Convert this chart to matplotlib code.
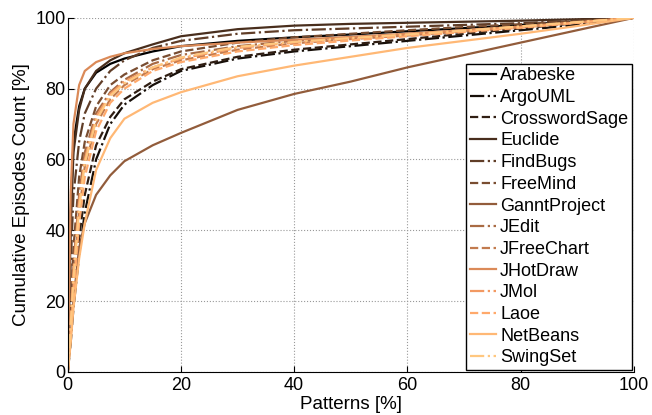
import matplotlib
matplotlib.use("Agg")
import matplotlib.pyplot as plt
import numpy as np

plt.rcParams['font.family'] = ['Liberation Sans', 'DejaVu Sans']

names = ['Arabeske', 'ArgoUML', 'CrosswordSage', 'Euclide', 'FindBugs', 'FreeMind',
         'GanntProject', 'JEdit', 'JFreeChart', 'JHotDraw', 'JMol', 'Laoe',
         'NetBeans', 'SwingSet']

# patterns [%] sample points shared by all curves
patterns = [0, 0.5, 1, 2, 3, 5, 7.5, 10, 15, 20, 30, 40, 50, 60, 70, 80, 90, 100]

arabeske      = [0, 45, 65, 75, 80, 84.5, 87, 88.5, 90.5, 92, 93.5, 94.5, 95.3, 96.2, 97.1, 98, 99, 100]
argouml       = [0, 8, 18, 33, 45, 60, 70, 75.5, 81, 85, 88.5, 90.5, 92, 93.5, 95, 96.5, 98, 100]
crosswordsage = [0, 10, 22, 38, 50, 64, 72, 77, 82, 85.5, 89, 91, 92.5, 94, 95.5, 97, 98.5, 100]
euclide       = [0, 40, 62, 74, 80, 85, 88, 90, 92.5, 94.8, 96.8, 97.8, 98.3, 98.6, 98.9, 99.2, 99.6, 100]
findbugs      = [0, 30, 50, 65, 73, 80, 85, 88, 91.5, 93.5, 95.5, 96.5, 97, 97.5, 98, 98.5, 99.2, 100]
freemind      = [0, 18, 35, 55, 65, 75, 81, 84, 88, 90.5, 93, 94.5, 95.5, 96.5, 97.4, 98.2, 99.1, 100]
ganttproject  = [0, 10, 20, 35, 42, 50, 55.5, 59.5, 64, 67.5, 74, 78.5, 82, 86, 89.5, 93, 96.5, 100]
jedit         = [0, 15, 30, 50, 62, 73, 79, 82.5, 87, 89.5, 92, 93.5, 94.5, 95.5, 96.5, 97.5, 98.7, 100]
jfreechart    = [0, 12, 25, 45, 58, 70, 77, 81, 85.5, 88, 91, 92.8, 94, 95, 96.2, 97.3, 98.6, 100]
jhotdraw      = [0, 50, 70, 81, 85, 87.5, 89, 90, 91.2, 92, 93, 93.8, 94.6, 95.5, 96.5, 97.5, 98.7, 100]
jmol          = [0, 14, 28, 48, 60, 72, 78.5, 82, 86, 88.5, 91.5, 93, 94.1, 95.2, 96.3, 97.5, 98.7, 100]
laoe          = [0, 10, 22, 42, 55, 68, 76, 80, 85, 87.5, 90.5, 92.3, 93.6, 94.8, 96, 97.2, 98.6, 100]
netbeans      = [0, 8, 18, 32, 42, 57, 66, 71.5, 76, 79, 83.5, 86.5, 89, 91.5, 93.5, 95.5, 97.7, 100]
swingset      = [0, 13, 26, 46, 59, 71, 78, 81.5, 86, 88.8, 91.8, 93.2, 94.3, 95.3, 96.4, 97.6, 98.8, 100]

series = [arabeske, argouml, crosswordsage, euclide, findbugs, freemind, ganttproject,
          jedit, jfreechart, jhotdraw, jmol, laoe, netbeans, swingset]

styles = ['-', '-.', '--']
colors = plt.cm.copper(np.linspace(0, 1, len(series)))

fig = plt.figure(figsize=(6.52, 4.15), dpi=100)
ax = fig.add_axes([0.104, 0.104, 0.868, 0.853])

for i, (name, vals) in enumerate(zip(names, series)):
    ax.plot(patterns, vals, linestyle=styles[i % 3], color=colors[i], lw=1.6, label=name)

ax.set_xlim(0, 100)
ax.set_ylim(0, 100)
ax.set_xticks(range(0, 101, 20))
ax.set_yticks(range(0, 101, 20))
ax.tick_params(direction='in', labelsize=13, length=4)
ax.tick_params(axis='x', pad=3.5)
ax.tick_params(axis='y', pad=1.5)
ax.grid(True, linestyle=':', color='#999999', linewidth=0.8)
ax.spines['top'].set_visible(False)
ax.spines['right'].set_visible(False)
ax.set_xlabel('Patterns [%]', fontsize=13.5, labelpad=2)
ax.set_ylabel('Cumulative Episodes Count [%]', fontsize=13.5, labelpad=4)

leg = ax.legend(loc='lower right', fontsize=13, frameon=True, fancybox=False,
                edgecolor='black', borderaxespad=0.1, handlelength=1.45,
                labelspacing=0.26, handletextpad=0.25, borderpad=0.2)
leg.get_frame().set_linewidth(1.0)
leg.get_frame().set_alpha(1)

fig.savefig('out.png', dpi=100)
